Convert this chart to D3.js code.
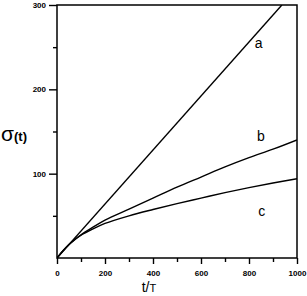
<!DOCTYPE html>
<html><head><meta charset="utf-8">
<script src="https://cdn.jsdelivr.net/npm/d3@7"></script>
<style>body{margin:0;background:#fff}svg{display:block}</style>
</head><body>
<script>
const tValues = [0, 25, 50, 75, 100, 150, 200, 300, 400, 500, 600, 700, 800, 900, 1000];
const seriesB = [0, 8.5, 16, 22, 27.5, 36.5, 45, 58, 71, 84, 96, 108, 119, 129, 140];
const seriesC = [0, 8.5, 16, 22, 27, 34.5, 41, 50, 57.5, 64.5, 71, 77.5, 83.5, 89, 94];
const lineA_t = [0, 937];
const lineA_v = [0, 300];
const xMajor = [0, 200, 400, 600, 800, 1000];
const xMinor = [100, 300, 500, 700, 900];
const yMajor = [100, 200, 300];
const yMinor = [50, 150, 250];
const curveLabels = [{k:"a", t:840, v:255}, {k:"b", t:850, v:145}, {k:"c", t:853, v:56}];

const W = 307, H = 296;
const m = {l:57, r:297, t:5, b:258};
const svg = d3.select("body").append("svg").attr("width", W).attr("height", H);
const x = d3.scaleLinear().domain([0, 1000]).range([m.l, m.r]);
const y = d3.scaleLinear().domain([0, 300]).range([m.b, m.t]);

svg.append("defs").append("clipPath").attr("id","clip").append("rect")
  .attr("x", m.l).attr("y", m.t).attr("width", m.r-m.l).attr("height", m.b-m.t);

const line = d3.line().x(d=>x(d[0])).y(d=>y(d[1])).curve(d3.curveCatmullRom.alpha(0.5));
const g = svg.append("g").attr("clip-path","url(#clip)");
g.append("path").datum(lineA_t.map((t,i)=>[t,lineA_v[i]])).attr("d", line)
  .attr("fill","none").attr("stroke","#000").attr("stroke-width",1.4);
g.append("path").datum(tValues.map((t,i)=>[t,seriesB[i]])).attr("d", line)
  .attr("fill","none").attr("stroke","#000").attr("stroke-width",1.4);
g.append("path").datum(tValues.map((t,i)=>[t,seriesC[i]])).attr("d", line)
  .attr("fill","none").attr("stroke","#000").attr("stroke-width",1.4);

// frame
svg.append("rect").attr("x", m.l).attr("y", m.t).attr("width", m.r-m.l).attr("height", m.b-m.t)
  .attr("fill","none").attr("stroke","#000").attr("stroke-width",1.5);

// x axis
svg.append("g").attr("transform", `translate(0,${m.b})`)
  .call(d3.axisBottom(x).tickValues(xMajor).tickSize(6).tickPadding(6).tickFormat(d3.format("d")));
svg.append("g").attr("transform", `translate(0,${m.b})`)
  .call(d3.axisBottom(x).tickValues(xMinor).tickSize(4).tickFormat(""));
// y axis
svg.append("g").attr("transform", `translate(${m.l},0)`)
  .call(d3.axisLeft(y).tickValues(yMajor).tickSize(8).tickPadding(3).tickFormat(d3.format("d")));
svg.append("g").attr("transform", `translate(${m.l},0)`)
  .call(d3.axisLeft(y).tickValues(yMinor).tickSize(4).tickFormat(""));
svg.selectAll(".domain").remove();
svg.selectAll(".tick line").attr("stroke","#000").attr("stroke-width",1.4);
svg.selectAll(".tick text").attr("fill","#000")
  .style("font-family","Liberation Sans, Arial, sans-serif").style("font-size","8px").style("font-weight","bold");

// curve labels
svg.selectAll("text.cl").data(curveLabels).enter().append("text").attr("class","cl")
  .attr("x", d=>x(d.t)).attr("y", d=>y(d.v)).attr("text-anchor","middle").attr("dominant-baseline","central")
  .style("font-family","Liberation Sans, Arial, sans-serif").style("font-size","14px").text(d=>d.k);

// axis titles
const xt = svg.append("text").attr("x", 149).attr("y", 292).attr("text-anchor","middle")
  .style("font-family","Liberation Sans, Arial, sans-serif").style("font-size","14px");
xt.append("tspan").text("t/");
xt.append("tspan").style("font-size","11px").text("T");

const yt = svg.append("text").attr("x", 1).attr("y", 141)
  .style("font-family","Liberation Sans, Arial, sans-serif");
yt.append("tspan").style("font-size","21px").text("σ");
yt.append("tspan").style("font-size","13px").style("font-weight","bold").text("(t)");
</script>
</body></html>
